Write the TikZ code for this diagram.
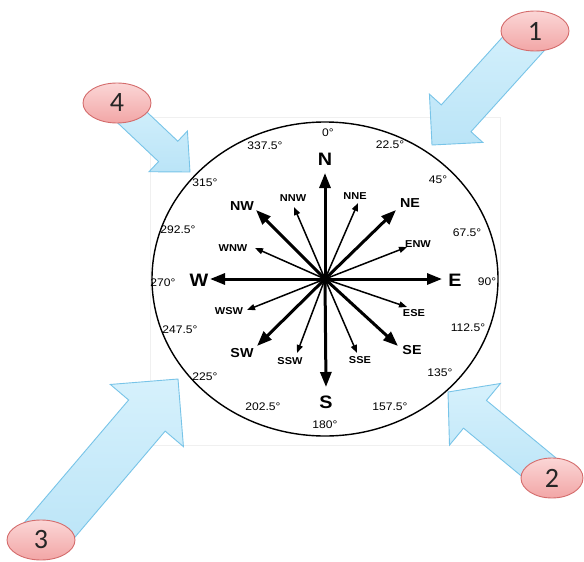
\documentclass[tikz,border=0pt]{standalone}
\usepackage{fontspec}
\setmainfont{Liberation Sans}
\newfontfamily\numfont{Carlito}
\usetikzlibrary{calc,arrows.meta,shapes.geometric}

\definecolor{arrowfill}{RGB}{186,228,247}
\definecolor{arrowlight}{RGB}{214,241,252}
\definecolor{arrowline}{RGB}{120,196,232}
\definecolor{ovalfill}{RGB}{242,166,166}
\definecolor{ovallight}{RGB}{251,214,214}
\definecolor{ovalline}{RGB}{212,108,108}

\newcommand{\wide}[1]{\scalebox{1.1}[1]{#1}}
% tail, tip, half shaft, head length, half head
\newcommand{\blockarrow}[5]{%
  \coordinate (ba-b) at ($(#2)!#4!(#1)$);
  \draw[blockstyle] ($(#1)!#3!90:(#2)$) -- ($(ba-b)!#3!-90:(#1)$) -- ($(ba-b)!#5!-90:(#1)$) -- (#2) -- ($(ba-b)!#5!90:(#1)$) -- ($(ba-b)!#3!90:(#1)$) -- ($(#1)!#3!-90:(#2)$) -- cycle;
}

\begin{document}
\begin{tikzpicture}[x=1pt,y=-1pt,
  blockstyle/.style={top color=arrowlight,bottom color=arrowfill,draw=arrowline,line width=0.9pt,line join=miter},
  oval/.style={ellipse,top color=ovallight,bottom color=ovalfill,draw=ovalline,line width=0.9pt,minimum width=68pt,minimum height=40pt,inner sep=0pt,font=\numfont\fontsize{28}{28}\selectfont,text=black!85},
  cardinal/.style={font=\fontsize{18}{18}\selectfont\bfseries,inner sep=0pt},
  inter/.style={font=\fontsize{13}{13}\selectfont\bfseries,inner sep=0pt},
  minor/.style={font=\fontsize{10}{10}\selectfont\bfseries,inner sep=0pt},
  deg/.style={font=\fontsize{11}{11}\selectfont,inner sep=0pt},
  mainarrow/.style={line width=3pt,-{Triangle[length=15pt,width=11pt]}},
  minorarrow/.style={line width=1.5pt,-{Triangle[length=8pt,width=6pt]}}
]
\useasboundingbox (0,0) rectangle (584,562);
\fill[white] (0,0) rectangle (584,562);

% faint backdrop of the compass
\draw[black!6,fill=white] (150,117) rectangle (500,445);

% block arrows
\coordinate (e1) at (535,31);
\coordinate (e2) at (552,478);
\coordinate (e3) at (41,540);
\coordinate (e4) at (117,103);
\coordinate (t1) at (432,145);
\coordinate (t2) at (448,392);
\coordinate (t3) at (178,379);
\coordinate (t4) at (190,172);

\blockarrow{e1}{t1}{20pt}{36pt}{36pt}
\blockarrow{e2}{t2}{18pt}{35pt}{40pt}
\blockarrow{e3}{t3}{24pt}{48pt}{48pt}
\blockarrow{e4}{t4}{14pt}{30pt}{28pt}

\node[oval] (o1) at (e1) {1};
\node[oval,minimum width=62pt] (o2) at (e2) {2};
\node[oval] (o3) at (e3) {3};
\node[oval] (o4) at (e4) {4};

% compass
\coordinate (c) at (325,279);
\draw[line width=1.4pt] (c) ellipse [x radius=173, y radius=157];

% degree labels
\node[deg] (d0) at (328,133) {\wide{0°}};
\node[deg] (d22) at (390,145) {\wide{22.5°}};
\node[deg] (d45) at (438,180) {\wide{45°}};
\node[deg] (d67) at (467,233) {\wide{67.5°}};
\node[deg] (d90) at (487,282) {\wide{90°}};
\node[deg] (d112) at (468,328) {\wide{112.5°}};
\node[deg] (d135) at (440,373) {\wide{135°}};
\node[deg] (d157) at (390,407) {\wide{157.5°}};
\node[deg] (d180) at (325,425) {\wide{180°}};
\node[deg] (d202) at (263,407) {\wide{202.5°}};
\node[deg] (d225) at (205,377) {\wide{225°}};
\node[deg] (d247) at (180,330) {\wide{247.5°}};
\node[deg] (d270) at (163,283) {\wide{270°}};
\node[deg] (d292) at (178,230) {\wide{292.5°}};
\node[deg] (d315) at (205,183) {\wide{315°}};
\node[deg] (d337) at (265,146) {\wide{337.5°}};

% direction labels
\node[cardinal] (N) at (325,159) {\wide{N}};
\node[cardinal] (S) at (326,402) {\wide{S}};
\node[cardinal] (E) at (455,280) {\wide{E}};
\node[cardinal] (W) at (199,280) {\wide{W}};
\node[inter] (NE) at (410,203) {\wide{NE}};
\node[inter] (NW) at (242,206) {\wide{NW}};
\node[inter] (SE) at (412,350) {\wide{SE}};
\node[inter] (SW) at (242,353) {\wide{SW}};
\node[minor] (NNW) at (293,198) {\wide{NNW}};
\node[minor] (NNE) at (355,196) {\wide{NNE}};
\node[minor] (ENW) at (418,244) {\wide{ENW}};
\node[minor] (WNW) at (233,248) {\wide{WNW}};
\node[minor] (ESE) at (414,313) {\wide{ESE}};
\node[minor] (WSW) at (229,311) {\wide{WSW}};
\node[minor] (SSW) at (290,361) {\wide{SSW}};
\node[minor] (SSE) at (360,360) {\wide{SSE}};

% arrow tips
\coordinate (aN) at (325,173);
\coordinate (aS) at (326,387);
\coordinate (aE) at (442,279);
\coordinate (aW) at (210,279);
\coordinate (aNE) at (396,210);
\coordinate (aNW) at (256,210);
\coordinate (aSE) at (398,346);
\coordinate (aSW) at (257,346);
\coordinate (aNNW) at (294,207);
\coordinate (aNNE) at (358,203);
\coordinate (aENW) at (407,247);
\coordinate (aWNW) at (255,248);
\coordinate (aESE) at (407,307);
\coordinate (aWSW) at (247,310);
\coordinate (aSSW) at (297,353);
\coordinate (aSSE) at (357,353);

\foreach \d in {N,S,E,W,NE,NW,SE,SW}
  \draw[mainarrow] (c) -- (a\d);
\foreach \d in {NNW,NNE,ENW,WNW,ESE,WSW,SSW,SSE}
  \draw[minorarrow] (c) -- (a\d);
\fill (c) circle (5pt);
\end{tikzpicture}
\end{document}
